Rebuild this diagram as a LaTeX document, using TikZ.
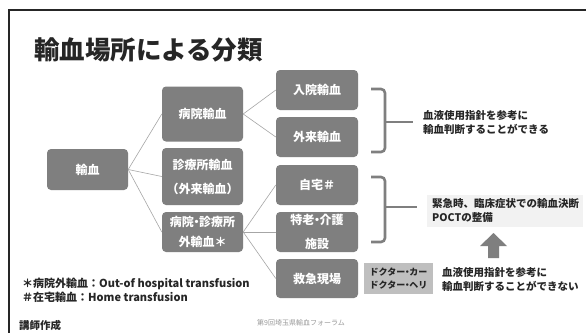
\documentclass[tikz,border=0pt]{standalone}
\usepackage{fontspec}
\setmainfont{Noto Sans CJK JP}
\newcommand{\ndot}{\hspace{-0.28em}・\hspace{-0.28em}}
\definecolor{boxgray}{HTML}{7F7F7F}
\definecolor{linegray}{HTML}{A6A6A6}
\definecolor{brgray}{HTML}{7F7F7F}
\definecolor{lightbg}{HTML}{F2F2F2}
\definecolor{docgray}{HTML}{BFBFBF}
\definecolor{dark}{HTML}{262626}
\tikzset{
  catbox/.style={fill=boxgray, rounded corners=4pt, text=white, align=center, inner sep=0pt,
    font=\bfseries\fontsize{12}{24}\selectfont},
  conn/.style={draw=linegray, line width=0.6pt},
  brk/.style={draw=brgray, line width=2.6pt, rounded corners=4pt},
  note/.style={anchor=west, align=left, inner sep=0pt, text=dark, font=\bfseries\fontsize{10.5}{14}\selectfont},
}
\begin{document}
\begin{tikzpicture}[x=1pt, y=-1pt]
\useasboundingbox (0,0) rectangle (586,333);
\fill[white] (0,0) rectangle (586,333);
% frame
\draw[dark, line width=2pt] (586,10) -- (9,10) -- (9,333);
% title
\node[anchor=west, inner sep=0pt, text=dark, font=\bfseries\fontsize{25.5}{30}\selectfont] (title) at (34,50) {輸血場所による分類};
% boxes
\node[catbox, minimum width=81pt, minimum height=41pt] (yuketsu) at (87.5,169.5) {輸血};
\node[catbox, minimum width=81pt, minimum height=55pt] (byoin) at (202.5,114) {病院輸血};
\node[catbox, minimum width=81pt, minimum height=57pt] (shinryo) at (202.5,176.5) {診療所輸血\\（外来輸血）};
\node[catbox, minimum width=81pt, minimum height=40pt, font=\bfseries\fontsize{12}{20}\selectfont] (gai) at (202.5,232) {病院\ndot 診療所\\外輸血＊};
\node[catbox, minimum width=82pt, minimum height=40pt] (nyuin) at (317,90) {入院輸血};
\node[catbox, minimum width=82pt, minimum height=40pt] (gairai) at (317,137) {外来輸血};
\node[catbox, minimum width=82pt, minimum height=40pt] (jitaku) at (317,185) {自宅＃};
\node[catbox, minimum width=82pt, minimum height=40pt] (tokuro) at (317,232) {特老\ndot 介護\\施設};
\node[catbox, minimum width=82pt, minimum height=39pt] (kyukyu) at (317,278.5) {救急現場};
% connectors
\draw[conn] (yuketsu.east) -- (byoin.west);
\draw[conn] (yuketsu.east) -- (shinryo.west);
\draw[conn] (yuketsu.east) -- (gai.west);
\draw[conn] (byoin.east) -- (nyuin.west);
\draw[conn] (byoin.east) -- (gairai.west);
\draw[conn] (gai.east) -- (jitaku.west);
\draw[conn] (gai.east) -- (tokuro.west);
\draw[conn] (gai.east) -- (kyukyu.west);
% brackets
\coordinate (b1a) at (371,89);
\coordinate (b1b) at (385,89);
\coordinate (b1c) at (385,152);
\coordinate (b1d) at (371,152);
\coordinate (b1m) at (385,122);
\coordinate (b1e) at (413,122);
\draw[brk] (b1a) -- (b1b) -- (b1c) -- (b1d);
\draw[brk] (b1m) -- (b1e);
\coordinate (b2a) at (371,177);
\coordinate (b2b) at (385,177);
\coordinate (b2c) at (385,242);
\coordinate (b2d) at (371,242);
\coordinate (b2m) at (385,207);
\coordinate (b2e) at (417,207);
\draw[brk] (b2a) -- (b2b) -- (b2c) -- (b2d);
\draw[brk] (b2m) -- (b2e);
% texts
\node[note] (can) at (423,122) {血液使用指針を参考に\\輸血判断することができる};
\node[fill=lightbg, minimum width=156pt, minimum height=32pt, inner sep=0pt] (poctbg) at (505,211) {};
\node[note, font=\bfseries\fontsize{10.5}{14}\selectfont] (poct) at (432,210) {緊急時、臨床症状での輸血決断\\POCTの整備};
% arrow
\fill[boxgray] (488,258) -- (488,246) -- (480,246) -- (493.5,233) -- (507,246) -- (499,246) -- (499,258) -- cycle;
\node[fill=docgray, minimum width=69pt, minimum height=31pt, inner sep=0pt, align=center, text=dark, font=\bfseries\fontsize{9}{12.5}\selectfont] (doctor) at (398.5,278.5) {ドクター\ndot カー\\ドクター\ndot ヘリ};
\node[note, font=\bfseries\fontsize{10.5}{13.5}\selectfont] (cannot) at (442,279.5) {血液使用指針を参考に\\輸血判断することができない};
% footnotes
\node[note, font=\bfseries\fontsize{11}{14}\selectfont] (fn) at (22,290) {＊病院外輸血：Out-of hospital transfusion\\＃在宅輸血：Home transfusion};
\node[note, font=\bfseries\fontsize{10.5}{12}\selectfont] (author) at (19,325) {講師作成};
\node[anchor=west, inner sep=0pt, text=gray!80, font=\fontsize{7}{8}\selectfont] (footer) at (257,323) {第9回埼玉県輸血フォーラム};
\end{tikzpicture}
\end{document}
